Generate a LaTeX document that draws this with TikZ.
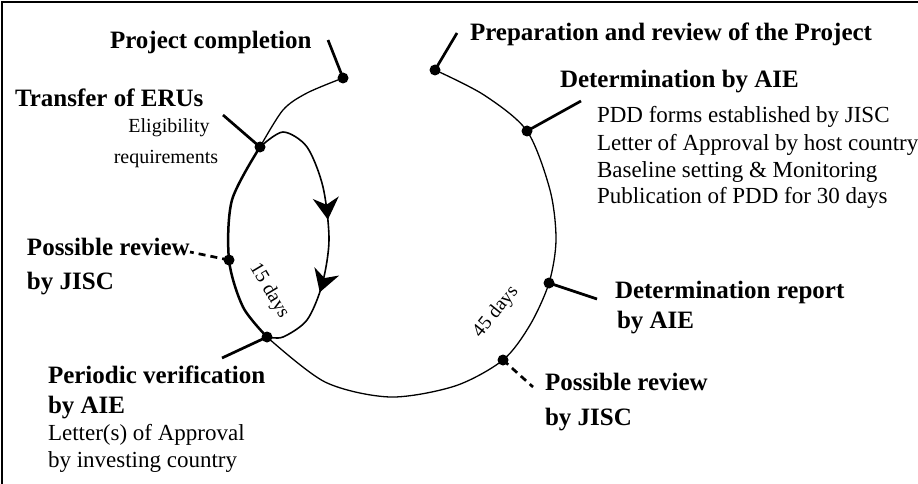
\documentclass[tikz,border=0pt]{standalone}
\usepackage{fontspec}
\setmainfont{Liberation Serif}
\usetikzlibrary{arrows.meta,decorations.markings}
\begin{document}
\begin{tikzpicture}[x=1pt,y=-1pt,
  every node/.style={inner sep=0pt, outer sep=0pt},
  big/.style={font=\fontsize{25}{29}\selectfont\bfseries, anchor=base west},
  txt/.style={font=\fontsize{23}{27}\selectfont, anchor=base west},
  smalltxt/.style={font=\fontsize{20}{22}\selectfont, anchor=base},
  daystxt/.style={font=\fontsize{19.5}{21}\selectfont},
  cyc/.style={line width=1.3pt},
  cycthick/.style={line width=2.5pt},
  tickline/.style={line width=2.7pt},
  dtickline/.style={line width=2.7pt, dash pattern=on 7pt off 5pt},
  dotmark/.style={fill=black},
  looparrows/.style={line width=1.6pt, postaction={decorate},
    decoration={markings,
      mark=at position 0.47 with {\arrow{Stealth[length=22pt,width=26pt,inset=7pt]}},
      mark=at position 0.73 with {\arrow{Stealth[length=22pt,width=26pt,inset=7pt]}}}}
]
\useasboundingbox (0,0) rectangle (918,484);
% frame
\draw[line width=1.5pt] (2,484) -- (2,2) -- (918,2);

% dot positions
\coordinate (pc) at (343,78);
\coordinate (prep) at (435,70);
\coordinate (detA) at (527,131);
\coordinate (detR) at (549,283);
\coordinate (prR) at (503,360);
\coordinate (per) at (267,337);
\coordinate (prL) at (229,260);
\coordinate (tr) at (260,147);

% free ends of ticks
\coordinate (pcE) at (328,40);
\coordinate (prepE) at (457,33);
\coordinate (detAE) at (581,101);
\coordinate (detRE) at (597,299);
\coordinate (prRE) at (533,387);
\coordinate (perE) at (222,358);
\coordinate (prLE) at (190,252);
\coordinate (trE) at (223,115);

% main cycle
\draw[cyc] plot[smooth] coordinates {(prep) (484,95) (detA) (550,190) (556,240) (detR) (530,325) (prR) (455,386) (390,397) (325,382) (per)};
\draw[cycthick] plot[smooth] coordinates {(per) (243,307) (prL) (232,200) (tr)};
\draw[cyc] plot[smooth] coordinates {(tr) (283,110) (307,93) (pc)};

% inner loop
\draw[looparrows] plot[smooth] coordinates {(tr) (283,132) (307,147) (323,187) (329,240) (322,285) (307,320) (283,337) (per)};

% ticks
\draw[tickline] (pc) -- (pcE);
\draw[tickline] (prep) -- (prepE);
\draw[tickline] (detA) -- (detAE);
\draw[tickline] (detR) -- (detRE);
\draw[dtickline] (prR) -- (prRE);
\draw[tickline] (per) -- (perE);
\draw[dtickline] (prL) -- (prLE);
\draw[tickline] (tr) -- (trE);

% dots
\foreach \p in {pc,prep,detA,detR,prR,per,prL,tr}
  \fill[dotmark] (\p) circle[radius=5.5pt];

% texts
\node[big] (tPC) at (110,49) {Project completion};
\node[big] (tPrep) at (470,41) {Preparation and review of the Project};
\node[big] (tDetA) at (560,88) {Determination by AIE};
\node[txt] (tL1) at (597,123) {PDD forms established by JISC};
\node[txt] (tL2) at (597,150) {Letter of Approval by host country};
\node[txt] (tL3) at (597,177) {Baseline setting \& Monitoring};
\node[txt] (tL4) at (597,203) {Publication of PDD for 30 days};
\node[big] (tTr) at (15,107) {Transfer of ERUs};
\node[smalltxt] (tEl1) at (169,133) {Eligibility};
\node[smalltxt] (tEl2) at (166,163) {requirements};
\node[big] (tPRL1) at (27,255) {Possible review};
\node[big] (tPRL2) at (27,289) {by JISC};
\node[big] (tPer1) at (48,383) {Periodic verification};
\node[big] (tPer2) at (48,413) {by AIE};
\node[txt] (tPer3) at (48,440) {Letter(s) of Approval};
\node[txt] (tPer4) at (48,467) {by investing country};
\node[big] (tDR1) at (615,298) {Determination report};
\node[big] (tDR2) at (617,328) {by AIE};
\node[big] (tPRR1) at (545,390) {Possible review};
\node[big] (tPRR2) at (545,425) {by JISC};
\node[daystxt, rotate=-59] (t15) at (269,291) {15 days};
\node[daystxt, rotate=51] (t45) at (496,312) {45 days};
\end{tikzpicture}
\end{document}
